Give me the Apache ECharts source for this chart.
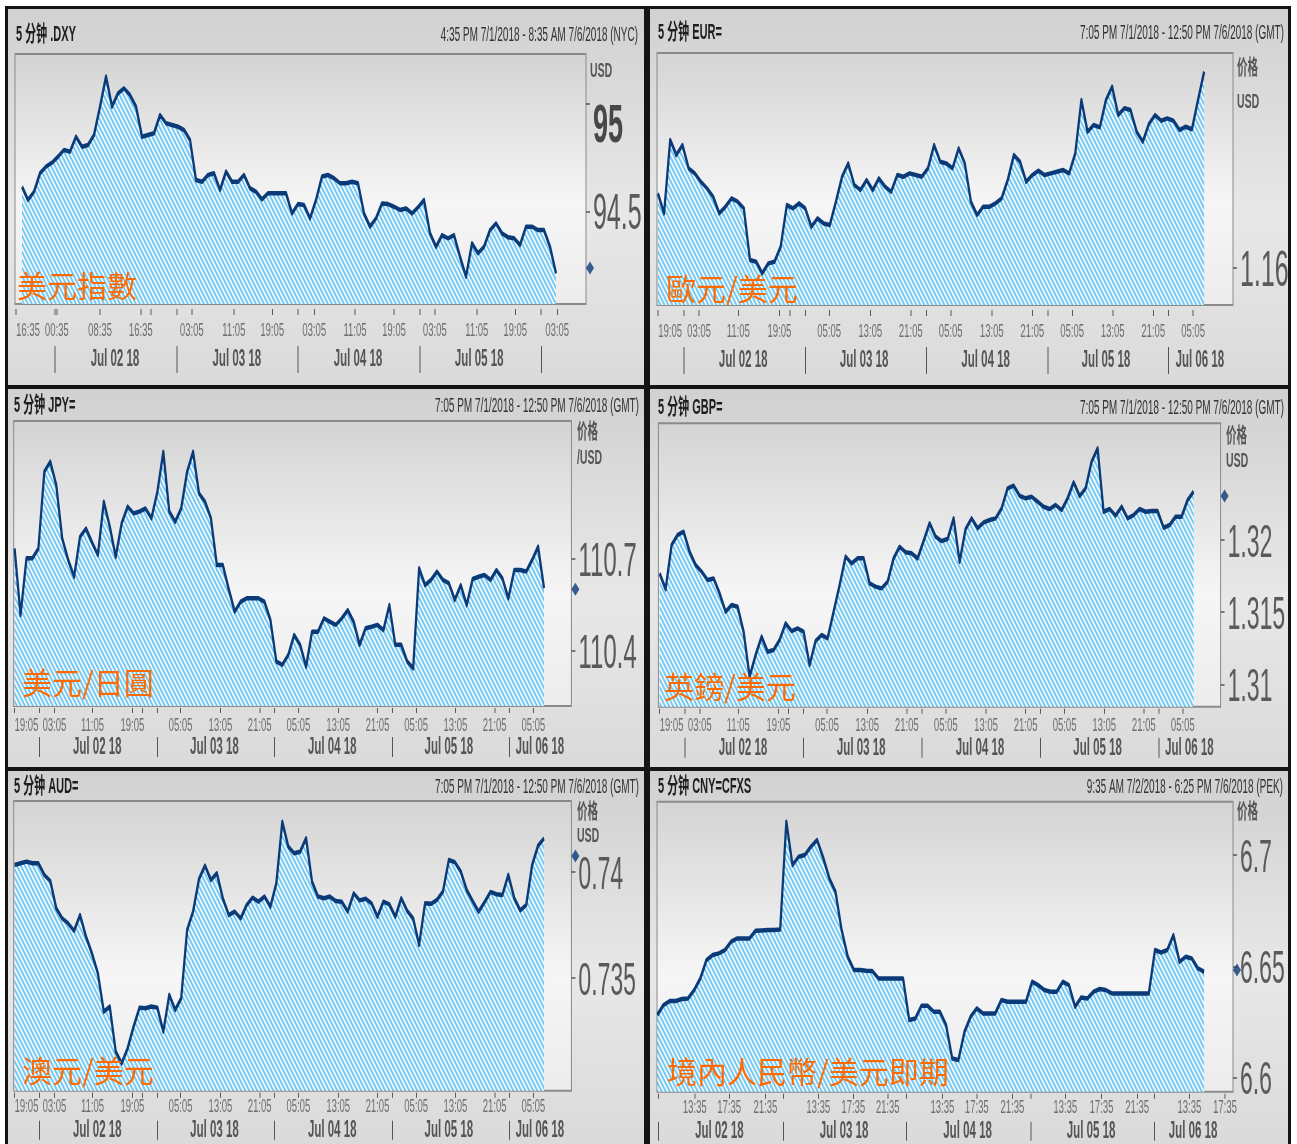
<!DOCTYPE html>
<html>
<head>
<meta charset="utf-8">
<title>FX 5 min</title>
<script src="https://cdn.jsdelivr.net/npm/echarts@6.0.0/dist/echarts.min.js"></script>
<style>
  html, body { margin: 0; padding: 0; background: #fff; overflow: hidden; }
  /* the source screenshot is squeezed to half width, so draw wide and squeeze */
  #chart { width: 2594px; height: 1144px; transform: scaleX(0.5); transform-origin: 0 0; }
</style>
</head>
<body>
<div id="chart"></div>
<script>
var S = 0.5;
function X(v) { return v / S; }

// ---------------- data (5 min bars, evenly resampled) ----------------
var dxyValues = [
  94.615, 94.554, 94.592, 94.677, 94.708, 94.726, 94.754, 94.785, 94.777, 94.846,
  94.800, 94.808, 94.854, 94.985, 95.123, 94.985, 95.046, 95.069, 95.038, 94.985,
  94.846, 94.854, 94.862, 94.946, 94.908, 94.900, 94.892, 94.877, 94.831, 94.646,
  94.638, 94.669, 94.677, 94.600, 94.685, 94.638, 94.638, 94.669, 94.608, 94.592,
  94.557, 94.585, 94.585, 94.585, 94.585, 94.492, 94.535, 94.531, 94.469, 94.554,
  94.662, 94.669, 94.654, 94.631, 94.631, 94.638, 94.631, 94.492, 94.431, 94.469,
  94.538, 94.535, 94.523, 94.508, 94.515, 94.492, 94.520, 94.554, 94.400, 94.338,
  94.392, 94.377, 94.392, 94.292, 94.200, 94.354, 94.308, 94.338, 94.415, 94.446,
  94.400, 94.382, 94.377, 94.346, 94.431, 94.431, 94.415, 94.415, 94.338, 94.215
];
var eurValues = [
  1.16622, 1.16456, 1.17067, 1.16942, 1.17025, 1.16831, 1.16789, 1.16719, 1.16664, 1.16594,
  1.16456, 1.16511, 1.16581, 1.16553, 1.16497, 1.16067, 1.16053, 1.15956, 1.16039, 1.16053,
  1.16178, 1.16525, 1.16497, 1.16539, 1.16497, 1.16344, 1.16414, 1.16372, 1.16358, 1.16553,
  1.16761, 1.16872, 1.16692, 1.16650, 1.16733, 1.16650, 1.16747, 1.16678, 1.16636, 1.16775,
  1.16761, 1.16789, 1.16775, 1.16761, 1.16831, 1.17025, 1.16886, 1.16872, 1.16831, 1.16997,
  1.16872, 1.16553, 1.16442, 1.16511, 1.16511, 1.16539, 1.16581, 1.16733, 1.16942, 1.16886,
  1.16719, 1.16775, 1.16811, 1.16775, 1.16789, 1.16803, 1.16817, 1.16789, 1.16956, 1.17400,
  1.17136, 1.17192, 1.17172, 1.17400, 1.17511, 1.17275, 1.17331, 1.17317, 1.17136, 1.17053,
  1.17200, 1.17275, 1.17228, 1.17247, 1.17228, 1.17150, 1.17178, 1.17156, 1.17400, 1.17636
];
var jpyValues = [
  110.732, 110.516, 110.700, 110.700, 110.732, 110.981, 111.014, 110.938, 110.765, 110.695,
  110.640, 110.770, 110.797, 110.752, 110.711, 110.884, 110.803, 110.705, 110.814, 110.868,
  110.846, 110.852, 110.862, 110.830, 110.916, 111.046, 110.852, 110.819, 110.862, 110.981,
  111.046, 110.911, 110.884, 110.830, 110.678, 110.678, 110.600, 110.527, 110.559, 110.570,
  110.570, 110.570, 110.559, 110.500, 110.365, 110.354, 110.386, 110.451, 110.419, 110.348,
  110.462, 110.462, 110.505, 110.494, 110.484, 110.505, 110.532, 110.494, 110.419, 110.473,
  110.478, 110.484, 110.467, 110.548, 110.419, 110.419, 110.365, 110.343, 110.668, 110.613,
  110.630, 110.657, 110.630, 110.619, 110.565, 110.613, 110.548, 110.633, 110.640, 110.646,
  110.630, 110.662, 110.635, 110.570, 110.662, 110.662, 110.657, 110.695, 110.738, 110.603
];
var gbpValues = [
  1.31769, 1.31660, 1.31965, 1.32035, 1.32058, 1.31919, 1.31827, 1.31781, 1.31723, 1.31734,
  1.31630, 1.31503, 1.31550, 1.31538, 1.31365, 1.31053, 1.31203, 1.31330, 1.31226, 1.31238,
  1.31307, 1.31422, 1.31369, 1.31388, 1.31365, 1.31134, 1.31300, 1.31342, 1.31319, 1.31503,
  1.31688, 1.31885, 1.31838, 1.31873, 1.31873, 1.31700, 1.31677, 1.31665, 1.31711, 1.31873,
  1.31954, 1.31915, 1.31908, 1.31873, 1.31993, 1.32116, 1.32023, 1.31993, 1.32007, 1.32150,
  1.31850, 1.32076, 1.32150, 1.32081, 1.32122, 1.32139, 1.32150, 1.32219, 1.32358, 1.32377,
  1.32307, 1.32289, 1.32300, 1.32266, 1.32231, 1.32215, 1.32243, 1.32208, 1.32289, 1.32400,
  1.32305, 1.32358, 1.32543, 1.32635, 1.32196, 1.32215, 1.32169, 1.32231, 1.32150, 1.32173,
  1.32215, 1.32196, 1.32201, 1.32201, 1.32085, 1.32104, 1.32162, 1.32162, 1.32277, 1.32335
];
var audValues = [
  0.74033, 0.74041, 0.74049, 0.74041, 0.74041, 0.73986, 0.73958, 0.73829, 0.73781, 0.73758,
  0.73722, 0.73797, 0.73695, 0.73616, 0.73522, 0.73341, 0.73365, 0.73153, 0.73097, 0.73168,
  0.73270, 0.73360, 0.73357, 0.73365, 0.73360, 0.73247, 0.73420, 0.73349, 0.73404, 0.73726,
  0.73813, 0.73967, 0.74030, 0.73962, 0.73994, 0.73876, 0.73797, 0.73813, 0.73781, 0.73844,
  0.73879, 0.73860, 0.73884, 0.73836, 0.73947, 0.74237, 0.74120, 0.74088, 0.74096, 0.74159,
  0.73954, 0.73884, 0.73876, 0.73884, 0.73863, 0.73860, 0.73813, 0.73899, 0.73866, 0.73874,
  0.73852, 0.73789, 0.73860, 0.73847, 0.73789, 0.73876, 0.73816, 0.73781, 0.73656, 0.73852,
  0.73850, 0.73868, 0.73907, 0.74057, 0.74046, 0.74002, 0.73915, 0.73863, 0.73813, 0.73857,
  0.73906, 0.73895, 0.73892, 0.73986, 0.73876, 0.73819, 0.73844, 0.74033, 0.74124, 0.74159
];
var cnyValues = [
  6.62806, 6.63255, 6.63435, 6.63435, 6.63525, 6.63555, 6.63930, 6.64454, 6.65279, 6.65504,
  6.65579, 6.65728, 6.66103, 6.66253, 6.66253, 6.66253, 6.66598, 6.66613, 6.66628, 6.66628,
  6.66658, 6.71499, 6.69550, 6.69925, 6.70000, 6.70375, 6.70675, 6.69880, 6.68951, 6.68351,
  6.66628, 6.65429, 6.64829, 6.64829, 6.64799, 6.64784, 6.64454, 6.64454, 6.64454, 6.64454,
  6.64454, 6.62581, 6.62656, 6.63225, 6.63225, 6.62956, 6.62956, 6.62356, 6.60857, 6.60782,
  6.62056, 6.62731, 6.63106, 6.62881, 6.62881, 6.62881, 6.63480, 6.63405, 6.63405, 6.63405,
  6.63405, 6.64305, 6.64155, 6.63930, 6.63855, 6.63855, 6.64305, 6.64155, 6.63180, 6.63600,
  6.63555, 6.63855, 6.63975, 6.63930, 6.63780, 6.63780, 6.63780, 6.63780, 6.63780, 6.63780,
  6.63780, 6.65728, 6.65623, 6.65728, 6.66403, 6.65204, 6.65429, 6.65354, 6.64904, 6.64754
];

// last traded price (diamond on the price axis)
var lastPrices = [94.24, null, 110.60, 1.32305, 0.74075, 6.6483];

// price ticks
var dxyYTicks = [94.5, 95];
var eurYTicks = [1.16];
var jpyYTicks = [110.4, 110.7];
var gbpYTicks = [1.31, 1.315, 1.32];
var audYTicks = [0.735, 0.74];
var cnyYTicks = [6.6, 6.65, 6.7];

// time ticks, in bar positions
var dxyTicks = [-1.0, 5.5, 5.8, 13.0, 19.8, 21.5, 25.8, 28.3, 35.3, 41.7, 46.0, 48.7, 55.5, 62.0, 66.3, 68.8, 75.8, 82.2, 86.5, 89.2];
var dxyLabels = [[1.0, '16:35'], [5.8, '00:35'], [13.0, '08:35'], [19.8, '16:35'], [28.3, '03:05'], [35.3, '11:05'], [41.7, '19:05'],
  [48.7, '03:05'], [55.5, '11:05'], [62.0, '19:05'], [68.8, '03:05'], [75.8, '11:05'], [82.2, '19:05'], [89.2, '03:05']];
var dxyDays = [5.5, 25.8, 46.0, 66.3, 86.6];
var dxyDayLabels = [[15.5, 'Jul 02 18'], [35.8, 'Jul 03 18'], [56.0, 'Jul 04 18'], [76.2, 'Jul 05 18']];

var gmtTicks = [0, 4.2, 6.7, 13.1, 19.8, 21.5, 24.0, 27.9, 34.6, 41.2, 43.7, 47.7, 54.4, 61.0, 63.5, 67.5, 74.1, 80.7, 83.2, 87.2];
var gmtLabels = [[2.0, '19:05'], [6.7, '03:05'], [13.1, '11:05'], [19.8, '19:05'], [27.9, '05:05'], [34.6, '13:05'], [41.2, '21:05'],
  [47.7, '05:05'], [54.4, '13:05'], [61.0, '21:05'], [67.5, '05:05'], [74.1, '13:05'], [80.7, '21:05'], [87.2, '05:05']];
var gmtDays = [4.2, 24.0, 43.7, 63.5, 83.2];
var gmtDayLabels = [[13.9, 'Jul 02 18'], [33.6, 'Jul 03 18'], [53.4, 'Jul 04 18'], [73.0, 'Jul 05 18'], [88.3, 'Jul 06 18']];

var cnyTicks = [0.2, 6.1, 11.7, 17.6, 20.5, 26.2, 31.9, 37.5, 40.5, 46.4, 52.0, 57.8, 60.8, 66.4, 72.3, 78.1, 80.9, 86.6, 92.4];
var cnyLabels = [[6.1, '13:35'], [11.7, '17:35'], [17.6, '21:35'], [26.2, '13:35'], [31.9, '17:35'], [37.5, '21:35'], [46.4, '13:35'],
  [52.0, '17:35'], [57.8, '21:35'], [66.4, '13:35'], [72.3, '17:35'], [78.1, '21:35'], [86.6, '13:35'], [92.4, '17:35']];
var cnyDays = [0.2, 20.5, 40.5, 60.8, 80.9];
var cnyDayLabels = [[10.1, 'Jul 02 18'], [30.4, 'Jul 03 18'], [50.5, 'Jul 04 18'], [70.6, 'Jul 05 18'], [87.2, 'Jul 06 18']];

// ---------------- layout ----------------
var FONT = '"Liberation Sans", "Noto Sans CJK SC", sans-serif';
var NAVY = '#0a3a78';

var rows = [
  { tickOff: 5, tickLen: 6, labMargin: 12, dayOff: 42, dayLen: 27, dayMargin: 2 },
  { tickOff: 2, tickLen: 5, labMargin: 8, dayOff: 31, dayLen: 20, dayMargin: -1 },
  { tickOff: 2, tickLen: 5, labMargin: 5, dayOff: 30, dayLen: 19, dayMargin: -2 }
];

var panels = [
  { code: '5 分钟 .DXY', range: '4:35 PM 7/1/2018 - 8:35 AM 7/6/2018 (NYC)', tag: '美元指數',
    values: dxyValues, yTicks: dxyYTicks, ticks: dxyTicks, labels: dxyLabels, days: dxyDays, dayLabels: dxyDayLabels,
    units: ['USD'], row: 0,
    frame: [8, 9, 636, 376], box: [15, 54, 571, 250], xMin: -1.17, xMax: 94.0, yMin: 94.074, yMax: 95.2275,
    head: [16, 638, 35], unitAt: [590, 71, 34], tagAt: [17, 286], yFont: 50 },
  { code: '5 分钟 EUR=', range: '7:05 PM 7/1/2018 - 12:50 PM 7/6/2018 (GMT)', tag: '歐元/美元',
    values: eurValues, yTicks: eurYTicks, ticks: gmtTicks, labels: gmtLabels, days: gmtDays, dayLabels: gmtDayLabels,
    units: ['价格', 'USD'], row: 0,
    frame: [650, 9, 638, 376], box: [657, 53, 576, 252], xMin: -0.15, xMax: 93.7, yMin: 1.15692, yMax: 1.17792,
    head: [658, 1284, 33], unitAt: [1237, 68, 34], tagAt: [666, 289], yFont: 50 },
  { code: '5 分钟 JPY=', range: '7:05 PM 7/1/2018 - 12:50 PM 7/6/2018 (GMT)', tag: '美元/日圓',
    values: jpyValues, yTicks: jpyYTicks, ticks: gmtTicks, labels: gmtLabels, days: gmtDays, dayLabels: gmtDayLabels,
    units: ['价格', '/USD'], row: 1,
    frame: [8, 389, 636, 378], box: [13.7, 421, 557.7, 285], xMin: -0.15, xMax: 93.6, yMin: 110.2205, yMax: 111.146,
    head: [14, 639, 406], unitAt: [577, 432, 26], tagAt: [22, 683], yFont: 48 },
  { code: '5 分钟 GBP=', range: '7:05 PM 7/1/2018 - 12:50 PM 7/6/2018 (GMT)', tag: '英鎊/美元',
    values: gbpValues, yTicks: gbpYTicks, ticks: gmtTicks, labels: gmtLabels, days: gmtDays, dayLabels: gmtDayLabels,
    units: ['价格', 'USD'], row: 1,
    frame: [650, 389, 638, 378], box: [658.4, 423.3, 562.2, 283.4], xMin: -0.2, xMax: 93.5, yMin: 1.30845, yMax: 1.32809,
    head: [658, 1284, 408], unitAt: [1226, 436, 25], tagAt: [664, 687], yFont: 46 },
  { code: '5 分钟 AUD=', range: '7:05 PM 7/1/2018 - 12:50 PM 7/6/2018 (GMT)', tag: '澳元/美元',
    values: audValues, yTicks: audYTicks, ticks: gmtTicks, labels: gmtLabels, days: gmtDays, dayLabels: gmtDayLabels,
    units: ['价格', 'USD'], row: 2,
    frame: [8, 771, 636, 373], box: [13.7, 801, 557.7, 289.7], xMin: -0.15, xMax: 93.6, yMin: 0.72968, yMax: 0.74335,
    head: [14, 639, 787], unitAt: [577, 812, 24], tagAt: [22, 1071], yFont: 46 },
  { code: '5 分钟 CNY=CFXS', range: '9:35 AM 7/2/2018 - 6:25 PM 7/6/2018 (PEK)', tag: '境內人民幣/美元即期',
    values: cnyValues, yTicks: cnyYTicks, ticks: cnyTicks, labels: cnyLabels, days: cnyDays, dayLabels: cnyDayLabels,
    units: ['价格'], row: 2,
    frame: [650, 771, 638, 373], box: [657, 801.7, 576, 290], xMin: -0.05, xMax: 93.7, yMin: 6.5936, yMax: 6.724,
    head: [658, 1283, 787], unitAt: [1237, 812, 24], tagAt: [667, 1072], yFont: 46 }
];

// diagonal hatch used under the price line
var hatch = document.createElement('canvas');
hatch.width = 8;
hatch.height = 8;
var hc = hatch.getContext('2d');
hc.fillStyle = '#f3fbff';
hc.fillRect(0, 0, 8, 8);
hc.strokeStyle = '#72c6ef';
hc.lineWidth = 3;
for (var k = -8; k <= 8; k += 8) {
  hc.beginPath();
  hc.moveTo(k - 1, -1);
  hc.lineTo(k + 9, 9);
  hc.stroke();
}

function toMap(pairs) {
  var m = {};
  pairs.forEach(function (p) { m[p[0]] = p[1]; });
  return m;
}
function firsts(pairs) {
  return pairs.map(function (p) { return p[0]; });
}

var option = {
  animation: false,
  backgroundColor: '#ffffff',
  grid: [],
  xAxis: [],
  yAxis: [],
  series: [],
  graphic: { elements: [] }
};
var g = option.graphic.elements;

g.push({ type: 'rect', shape: { x: X(5), y: 6, width: X(1286), height: 1138 }, style: { fill: '#141414' }, z: -20 });

panels.forEach(function (p, i) {
  var r = rows[p.row];
  var b = p.box;
  var f = p.frame;
  var labMap = toMap(p.labels);
  var dayMap = toMap(p.dayLabels);

  g.push({
    type: 'rect', shape: { x: X(f[0]), y: f[1], width: X(f[2]), height: f[3] }, z: -10,
    style: { fill: new echarts.graphic.LinearGradient(0, 0, 0, 1, [
      { offset: 0, color: '#d1d1d1' }, { offset: 0.55, color: '#e8e8e8' }, { offset: 1, color: '#dadada' }]) }
  });

  option.grid.push({
    left: X(b[0]), top: b[1], width: X(b[2]), height: b[3], outerBoundsMode: 'none',
    show: true, borderColor: '#8a8a8a', borderWidth: 2,
    backgroundColor: new echarts.graphic.LinearGradient(0, 0, 0, 1, [
      { offset: 0, color: '#d4d4d4' }, { offset: 0.6, color: '#f6f6f6' }, { offset: 1, color: '#ececec' }])
  });

  option.xAxis.push({
    gridIndex: i, type: 'value', min: p.xMin, max: p.xMax, position: 'bottom', offset: r.tickOff,
    axisLine: { show: false, onZero: false }, splitLine: { show: false },
    axisTick: { show: true, customValues: p.ticks, length: r.tickLen, lineStyle: { color: '#5a5a5a', width: 2 } },
    axisLabel: {
      customValues: firsts(p.labels), margin: r.labMargin,
      fontSize: 19, fontFamily: FONT, color: '#6e6e6e',
      formatter: function (v) { return labMap[v] || ''; }
    }
  });
  option.xAxis.push({
    gridIndex: i, type: 'value', min: p.xMin, max: p.xMax, position: 'bottom', offset: r.dayOff,
    axisLine: { show: false, onZero: false }, splitLine: { show: false },
    axisTick: { show: true, customValues: p.days, length: r.dayLen, lineStyle: { color: '#555', width: 2 } },
    axisLabel: {
      customValues: firsts(p.dayLabels), margin: r.dayMargin,
      fontSize: 23, fontWeight: 'bold', fontFamily: FONT, color: '#555',
      formatter: function (v) { return dayMap[v] || ''; }
    }
  });

  option.yAxis.push({
    gridIndex: i, type: 'value', position: 'right', min: p.yMin, max: p.yMax,
    axisLine: { show: false, onZero: false }, splitLine: { show: false },
    axisTick: { show: true, customValues: p.yTicks, length: 8, lineStyle: { color: '#555', width: 1.5 } },
    axisLabel: {
      customValues: p.yTicks, margin: 14, padding: [8, 0, 0, 0],
      fontSize: p.yFont, fontFamily: FONT, color: '#5a5a5a',
      formatter: function (v) { return v === 95 ? '{b|95}' : String(v); },
      rich: { b: { fontSize: 54, fontWeight: 'bold', color: '#474747', fontFamily: FONT, padding: [40, 0, 0, 0] } }
    }
  });

  option.series.push({
    type: 'line', xAxisIndex: 2 * i, yAxisIndex: i, silent: true, z: 3,
    data: p.values.map(function (v, n) { return [n, v]; }),
    symbol: 'none', showSymbol: false,
    lineStyle: { color: NAVY, width: 4.5, join: 'round' },
    areaStyle: { color: { image: hatch, repeat: 'repeat' }, origin: 'start', opacity: 1 }
  });
  if (lastPrices[i] != null) {
    option.series.push({
      type: 'scatter', xAxisIndex: 2 * i, yAxisIndex: i, silent: true, z: 4, clip: false,
      data: [[p.xMax, lastPrices[i]]],
      symbol: 'diamond', symbolSize: [16, 13], symbolOffset: [8, 0],
      itemStyle: { color: NAVY }
    });
  }

  // header
  g.push({ type: 'text', x: X(p.head[0]), y: p.head[2], z: 10,
    style: { text: p.code, font: 'bold 22px ' + FONT, fill: '#1e1e1e', align: 'left', verticalAlign: 'middle' } });
  g.push({ type: 'text', x: X(p.head[1]), y: p.head[2], z: 10,
    style: { text: p.range, font: '20px ' + FONT, fill: '#333', align: 'right', verticalAlign: 'middle' } });

  // unit caption above the price axis
  p.units.forEach(function (u, n) {
    g.push({ type: 'text', x: X(p.unitAt[0]), y: p.unitAt[1] + n * p.unitAt[2], z: 10,
      style: { text: u, font: 'bold 21px ' + FONT, fill: '#565656', align: 'left', verticalAlign: 'middle' } });
  });

  // orange caption, not squeezed
  g.push({ type: 'text', x: X(p.tagAt[0]), y: p.tagAt[1], scaleX: 1 / S, z: 50,
    style: { text: p.tag, font: '30px "Noto Sans CJK TC", "Noto Sans CJK SC", sans-serif', fill: '#ff6a00',
      align: 'left', verticalAlign: 'middle' } });
});

var myChart = echarts.init(document.getElementById('chart'));
myChart.setOption(option);
</script>
</body>
</html>
